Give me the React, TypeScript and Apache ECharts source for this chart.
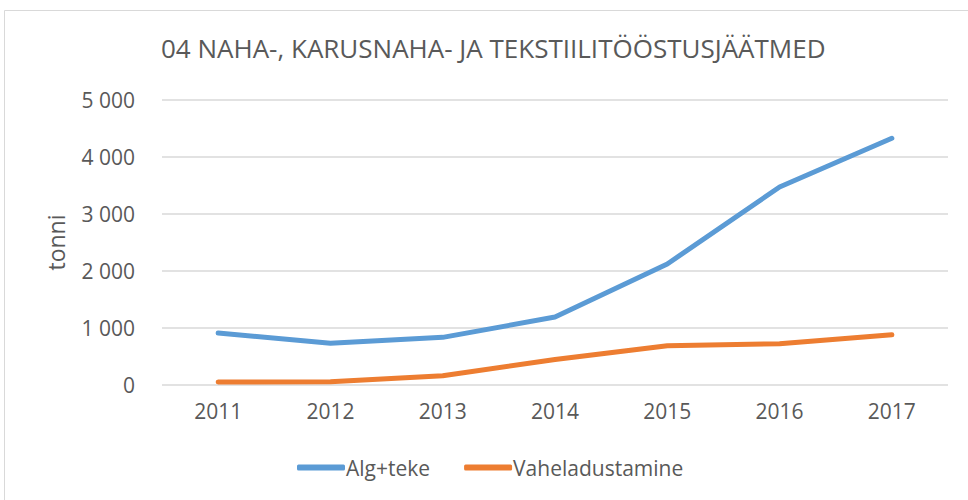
import React, { useEffect, useRef } from "react";
import * as echarts from "echarts";

const titleText = "04 NAHA-, KARUSNAHA- JA TEKSTIILITÖÖSTUSJÄÄTMED";
const years = ["2011", "2012", "2013", "2014", "2015", "2016", "2017"];
const algTeke = [913, 732, 836, 1192, 2123, 3474, 4328];
const vaheladustamine = [52, 59, 164, 448, 690, 725, 882];
const yAxisName = "tonni";

const FONT = "'Open Sans', sans-serif";
const TXT = "#595959";

function fmt(v: number) {
  const s = String(Math.round(v));
  return s.replace(/\B(?=(\d{3})+(?!\d))/g, " ");
}

export default function App() {
  const ref = useRef<HTMLDivElement>(null);
  useEffect(() => {
    if (!ref.current) return;
    const chart = echarts.init(ref.current, undefined, { renderer: "svg" });
    chart.setOption({
      animation: false,
      backgroundColor: "#ffffff",
      textStyle: { fontFamily: FONT },
      title: {
        text: titleText,
        left: 156,
        top: 30,
        textStyle: { fontFamily: FONT, fontSize: 26, fontWeight: "normal", color: TXT },
      },
      graphic: [
        {
          type: "rect",
          shape: { x: 4.5, y: 10.5, width: 1000, height: 1000 },
          style: { fill: "none", stroke: "#d9d9d9", lineWidth: 1 },
          silent: true,
        },
      ],
      grid: { left: 162, right: 20, top: 100, bottom: 115 },
      legend: {
        top: 452,
        left: 292,
        itemWidth: 48,
        itemHeight: 6,
        itemGap: 34,
        icon: "roundRect",
        textStyle: { fontFamily: FONT, fontSize: 21, color: TXT, padding: [0, 0, 0, -4] },
        data: ["Alg+teke", "Vaheladustamine"],
      },
      xAxis: {
        type: "category",
        data: years,
        boundaryGap: true,
        axisLine: { show: false },
        axisTick: { show: false },
        axisLabel: { color: TXT, fontSize: 21, fontFamily: FONT, margin: 15 },
      },
      yAxis: {
        type: "value",
        min: 0,
        max: 5000,
        interval: 1000,
        name: yAxisName,
        nameLocation: "middle",
        nameGap: 95,
        nameTextStyle: { color: TXT, fontSize: 23, fontFamily: FONT },
        axisLine: { show: false },
        axisTick: { show: false },
        axisLabel: { color: TXT, fontSize: 21, fontFamily: FONT, margin: 27, formatter: (v: number) => fmt(v) },
        splitLine: { lineStyle: { color: "#d9d9d9", width: 1.5 } },
      },
      series: [
        {
          name: "Alg+teke",
          type: "line",
          data: algTeke,
          symbol: "none",
          lineStyle: { color: "#5B9BD5", width: 5, cap: "round", join: "round" },
          itemStyle: { color: "#5B9BD5" },
        },
        {
          name: "Vaheladustamine",
          type: "line",
          data: vaheladustamine,
          symbol: "none",
          lineStyle: { color: "#ED7D31", width: 5, cap: "round", join: "round" },
          itemStyle: { color: "#ED7D31" },
        },
      ],
    });
    return () => chart.dispose();
  }, []);
  return <div ref={ref} style={{ width: 968, height: 500, position: "absolute", left: 0, top: 0 }} />;
}
